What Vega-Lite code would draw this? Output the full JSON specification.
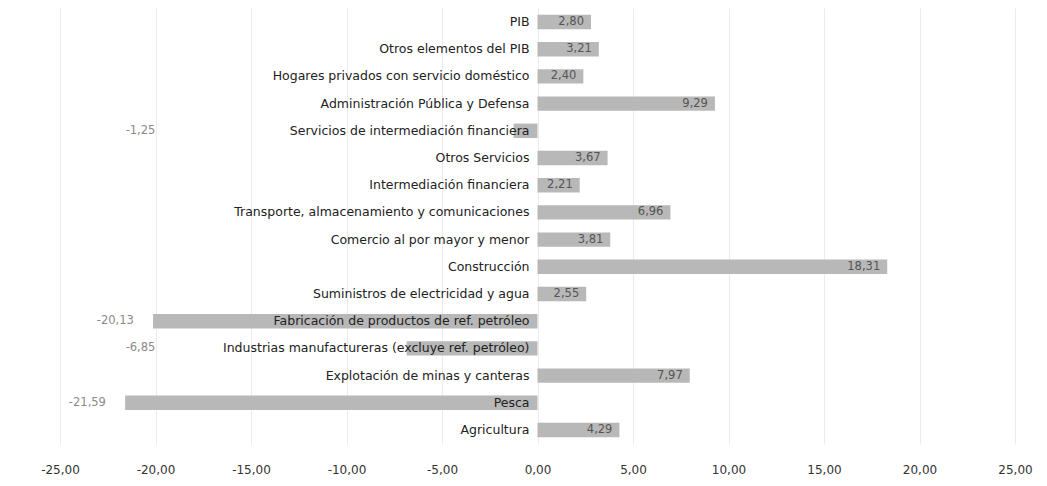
{
  "$schema": "https://vega.github.io/schema/vega-lite/v6.json",
  "width": 955,
  "height": 436,
  "autosize": {"type": "none"},
  "padding": {"left": 60, "top": 8, "right": 32, "bottom": 42},
  "background": "#ffffff",
  "config": {
    "locale": {"number": {"decimal": ",", "thousands": ".", "grouping": [3], "currency": ["", " €"], "minus": "-"}},
    "view": {"stroke": null},
    "font": "DejaVu Sans"
  },
  "data": {
    "values": [
      {"sector": "PIB", "v": 2.80},
      {"sector": "Otros elementos del PIB", "v": 3.21},
      {"sector": "Hogares privados con servicio doméstico", "v": 2.40},
      {"sector": "Administración Pública y Defensa", "v": 9.29},
      {"sector": "Servicios de intermediación financiera", "v": -1.25},
      {"sector": "Otros Servicios", "v": 3.67},
      {"sector": "Intermediación financiera", "v": 2.21},
      {"sector": "Transporte, almacenamiento y comunicaciones", "v": 6.96},
      {"sector": "Comercio al por mayor y menor", "v": 3.81},
      {"sector": "Construcción", "v": 18.31},
      {"sector": "Suministros de electricidad y agua", "v": 2.55},
      {"sector": "Fabricación de productos de ref. petróleo", "v": -20.13},
      {"sector": "Industrias manufactureras (excluye ref. petróleo)", "v": -6.85},
      {"sector": "Explotación de minas y canteras", "v": 7.97},
      {"sector": "Pesca", "v": -21.59},
      {"sector": "Agricultura", "v": 4.29}
    ]
  },
  "encoding": {
    "y": {
      "field": "sector", "type": "nominal", "sort": null,
      "scale": {"paddingInner": 0.47, "paddingOuter": 0.25},
      "axis": null
    }
  },
  "layer": [
    {
      "mark": {"type": "bar", "color": "#b8b8b8"},
      "encoding": {
        "x": {
          "field": "v", "type": "quantitative",
          "scale": {"domain": [-25, 25], "nice": false},
          "axis": {
            "values": [-25, -20, -15, -10, -5, 0, 5, 10, 15, 20, 25],
            "format": ".2f",
            "title": null,
            "domain": false,
            "ticks": false,
            "grid": true,
            "gridColor": "#ebebeb",
            "labelPadding": 20,
            "labelFontSize": 12,
            "labelColor": "#333333",
            "labelFont": "DejaVu Sans",
            "labelFlush": false
          }
        }
      }
    },
    {
      "mark": {"type": "text", "align": "right", "baseline": "middle", "dx": -8, "fontSize": 12.5, "color": "#222222"},
      "encoding": {
        "x": {"datum": 0, "type": "quantitative"},
        "text": {"field": "sector"}
      }
    },
    {
      "transform": [{"filter": "datum.v > 0"}],
      "mark": {"type": "text", "align": "right", "baseline": "middle", "dx": -7, "fontSize": 11.5, "color": "#555555"},
      "encoding": {
        "x": {"field": "v", "type": "quantitative"},
        "text": {"field": "v", "type": "quantitative", "format": ".2f"}
      }
    },
    {
      "transform": [
        {"filter": "datum.v < 0"},
        {"calculate": "min(datum.v, -19) - 0.9", "as": "labx"}
      ],
      "mark": {"type": "text", "align": "right", "baseline": "middle", "dx": -2, "fontSize": 11.5, "color": "#8a8a8a"},
      "encoding": {
        "x": {"field": "labx", "type": "quantitative"},
        "text": {"field": "v", "type": "quantitative", "format": ".2f"}
      }
    }
  ]
}
